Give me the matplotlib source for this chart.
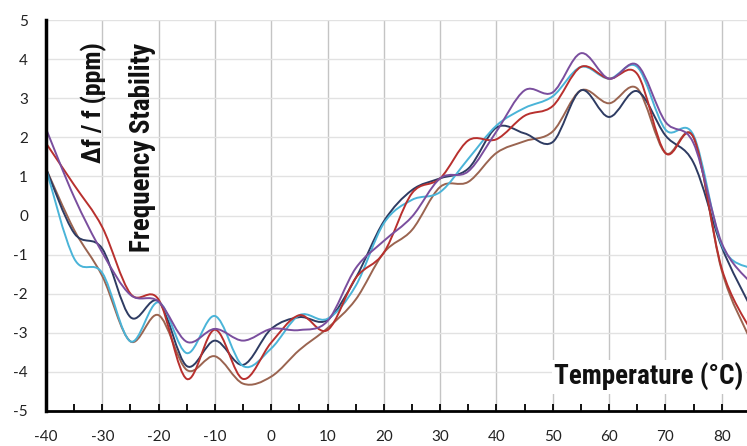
import matplotlib
matplotlib.use("Agg")
import matplotlib.pyplot as plt
from matplotlib.path import Path
from matplotlib.patches import PathPatch
from matplotlib import font_manager
import numpy as np

temps = [-40, -35, -30, -25, -20, -15, -10, -5, 0, 5, 10, 15, 20, 25, 30, 35, 40,
         45, 50, 55, 60, 65, 70, 75, 80, 85]

navy = [1.2, -0.45, -0.85, -2.6, -2.2, -3.85, -3.2, -3.82, -2.9, -2.6, -2.67, -1.6,
        -0.15, 0.65, 0.95, 1.2, 2.25, 2.1, 1.88, 3.2, 2.52, 3.18, 2.05, 1.35, -0.8, -2.3]
red = [1.85, 0.78, -0.3, -2.0, -2.15, -4.18, -2.92, -4.18, -3.25, -2.55, -2.93, -1.6,
       -0.95, 0.57, 0.95, 1.92, 1.95, 2.55, 2.8, 3.8, 3.5, 3.62, 1.6, 2.0, -1.35, -2.9]
purple = [2.22, 0.47, -0.95, -2.03, -2.2, -3.23, -2.9, -3.2, -2.9, -2.93, -2.7, -1.35,
          -0.65, -0.03, 0.95, 1.13, 2.15, 3.2, 3.15, 4.15, 3.5, 3.85, 2.4, 1.85, -0.7, -1.7]
cyan = [1.2, -1.1, -1.47, -3.22, -2.22, -3.52, -2.57, -3.85, -3.4, -2.55, -2.64, -1.8,
        -0.2, 0.4, 0.6, 1.45, 2.3, 2.75, 3.05, 3.8, 3.5, 3.8, 2.2, 2.05, -0.75, -1.35]
brown = [1.2, -0.37, -1.55, -3.22, -2.55, -3.95, -3.6, -4.3, -4.12, -3.44, -2.88, -2.15,
         -0.95, -0.37, 0.73, 0.86, 1.6, 1.9, 2.15, 3.2, 2.87, 3.25, 1.6, 2.0, -1.4, -3.15]

series = [
    (brown, "#9A6450"),
    (navy, "#2E3B62"),
    (cyan, "#4AB4D8"),
    (red, "#B8302E"),
    (purple, "#7A4E9E"),
]

x_ticks = list(range(-40, 81, 10))
y_ticks = list(range(-5, 6))


def smooth_path(xs, ys):
    xs = np.asarray(xs, float)
    ys = np.asarray(ys, float)
    pts = np.column_stack([xs, ys])
    n = len(pts)
    verts = [pts[0]]
    codes = [Path.MOVETO]
    for i in range(n - 1):
        p0 = pts[i - 1] if i > 0 else pts[i]
        p1 = pts[i]
        p2 = pts[i + 1]
        p3 = pts[i + 2] if i + 2 < n else pts[i + 1]
        c1 = p1 + (p2 - p0) / 6.0
        c2 = p2 - (p3 - p1) / 6.0
        verts += [c1, c2, p2]
        codes += [Path.CURVE4] * 3
    return Path(verts, codes)


# pick a condensed bold face if one is installed
names = {f.name for f in font_manager.fontManager.ttflist}
cond = None
for cand in ["Liberation Sans Narrow", "Roboto Condensed", "DejaVu Sans Condensed",
             "Open Sans Condensed"]:
    if cand in names:
        cond = cand
        break
condensed_dejavu = any(f.name == "DejaVu Sans" and f.stretch == "condensed"
                       for f in font_manager.fontManager.ttflist)
if cond is not None:
    lab_kw = dict(family=[cond, "DejaVu Sans"])
    scale = 1.0
elif condensed_dejavu:
    lab_kw = dict(family=["DejaVu Sans"], fontstretch="condensed")
    scale = 0.95
else:
    lab_kw = dict(family=["Roboto", "DejaVu Sans"])
    scale = 0.9

W, H = 747, 446
fig = plt.figure(figsize=(W / 100, H / 100), dpi=100)
ax = fig.add_axes([46 / W, (H - 411) / H, (W - 46) / W, 391 / H])

ax.set_xlim(-40, 84.5)
ax.set_ylim(-5, 5)

for vals, col in series:
    patch = PathPatch(smooth_path(temps, vals), facecolor="none", edgecolor=col,
                      lw=1.4, zorder=3, capstyle="round", joinstyle="round")
    ax.add_patch(patch)

ax.set_xticks(x_ticks)
ax.set_xticks(list(range(-35, 85, 10)), minor=True)
ax.set_yticks(y_ticks)
ax.set_xticklabels([str(t) for t in x_ticks])
ax.set_yticklabels([str(t) for t in y_ticks])

tick_font = ["Lato", "DejaVu Sans"]
for lab in ax.get_xticklabels() + ax.get_yticklabels():
    lab.set_family(tick_font)
    lab.set_fontsize(11)
    lab.set_color("#222222")

ax.tick_params(axis="x", which="both", direction="in", length=5, width=1.3,
               color="black", pad=14)
ax.tick_params(axis="y", which="both", length=0, pad=13)

ax.grid(axis="x", which="major", color="#c4c4c4", lw=1.0, zorder=0)
ax.grid(axis="y", which="major", color="#e2e2e2", lw=1.0, zorder=0)
ax.set_axisbelow(True)

for s in ["top", "right"]:
    ax.spines[s].set_visible(False)
ax.spines["left"].set_linewidth(2.5)
ax.spines["bottom"].set_linewidth(2.0)
ax.spines["left"].set_zorder(4)
ax.spines["bottom"].set_zorder(4)

fig.text(94 / W, 1 - 103 / H, "Δf / f (ppm)", rotation=90, ha="center", va="center",
         fontweight="bold", fontsize=18.5 * scale, color="#111111", **lab_kw)
fig.text(143 / W, 1 - 147 / H, "Frequency Stability", rotation=90, ha="center",
         va="center", fontweight="bold", fontsize=19.5 * scale, color="#111111", **lab_kw)
fig.text(649 / W, 1 - 377 / H, "Temperature (°C)", ha="center", va="center",
         fontweight="bold", fontsize=19.5 * scale, color="#111111",
         bbox=dict(facecolor="white", edgecolor="none", pad=2), zorder=5, **lab_kw)

fig.savefig("out.png", dpi=100, facecolor="white")
